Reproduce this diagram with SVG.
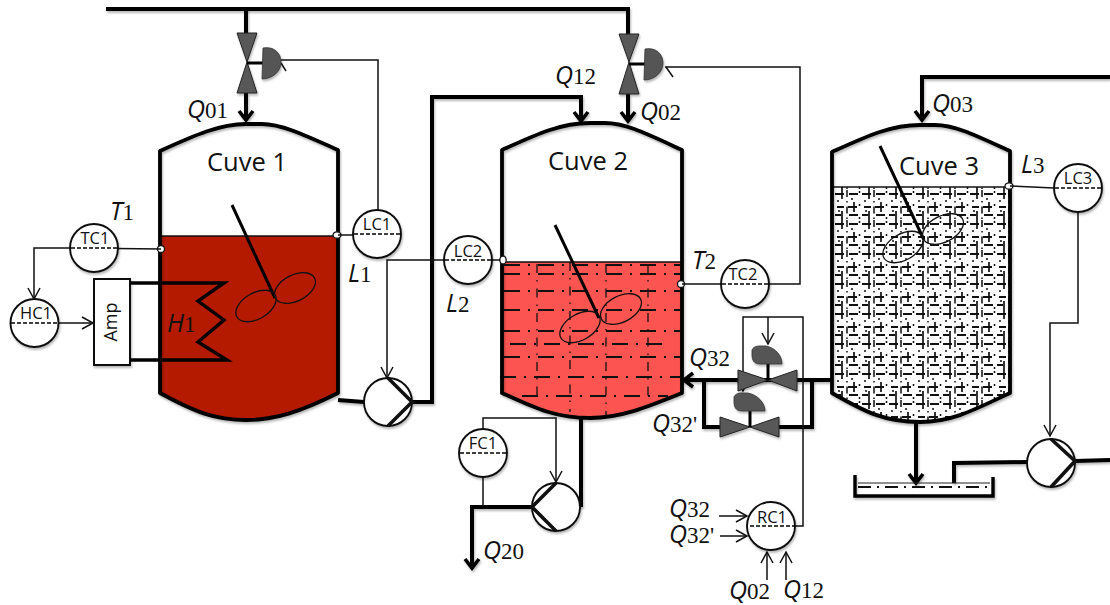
<svg xmlns="http://www.w3.org/2000/svg" width="1110" height="605" viewBox="0 0 1110 605">
<style>
text{font-family:"Open Sans","Noto Sans","DejaVu Sans",sans-serif;fill:#111}
.lbl{font-size:23px;font-family:"Liberation Serif",serif}
.i{font-family:"Open Sans",sans-serif;font-style:italic;font-size:25px}
.tag{font-size:16.500px;text-anchor:middle}
.name{font-size:25.500px;text-anchor:middle}
.pipe{fill:none;stroke:#000;stroke-width:4;filter:url(#sh)}
.thin{fill:none;stroke:#111;stroke-width:1.5}
.wall{fill:none;stroke:#000;stroke-width:3.8;stroke-linecap:round;stroke-linejoin:round;filter:url(#sh)}
.circ{fill:#fff;stroke:#111;stroke-width:1.9;filter:url(#sh)}
.dash{fill:none;stroke:#000;stroke-width:1.6;stroke-dasharray:4 2}
.v{fill:#595959;stroke:#222;stroke-width:1;filter:url(#sh)}
.act{fill:#555;stroke:#333;stroke-width:.8;filter:url(#sh)}
.dd{fill:none;stroke:#111;stroke-width:2;stroke-dasharray:16 8 2 8}
.ddv{fill:none;stroke:#111;stroke-width:1.300;stroke-dasharray:9 7 1.500 7}
.blade{fill:none;stroke:#111;stroke-width:1.3}
.stir{fill:none;stroke:#000;stroke-width:3}
.port{fill:#fff;stroke:#111;stroke-width:1.3}
.pbar{fill:none;stroke:#111;stroke-width:3.6;stroke-linejoin:miter}
</style>
<defs>
<filter id="sh" filterUnits="userSpaceOnUse" x="0" y="0" width="1110" height="605"><feDropShadow dx="1" dy="2" stdDeviation="1.300" flood-color="#000" flood-opacity=".28"/></filter>
<marker id="big" markerWidth="18" markerHeight="18" refX="14" refY="9" orient="auto" markerUnits="userSpaceOnUse" viewBox="0 0 18 18"><path d="M5 2 L14 9 L5 16" fill="none" stroke="#000" stroke-width="3.6"/></marker>
<marker id="sm" markerWidth="16" markerHeight="16" refX="14" refY="8" orient="auto" markerUnits="userSpaceOnUse" viewBox="0 0 16 16"><path d="M3 2 L14 8 L3 14" fill="none" stroke="#111" stroke-width="1.5"/></marker>
<pattern id="hatch" width="27" height="30" patternUnits="userSpaceOnUse" x="834" y="190">
<rect width="27" height="30" fill="#fcfcfc"/>
<g stroke="#111" fill="none">
<path stroke-width="2" d="M1 4H10M15 4H24M3 17H10M14 17H23M1 25H7M15 25H24"/>
<path stroke-width="1.7" d="M8 0V9M20 12V22M8 21V30"/>
<path stroke-width="1.500" d="M13 0V30" stroke-dasharray="7 4 1.500 4"/>
<path stroke-width="1.600" d="M3 11H5M17 9H19M4 21H6"/>
<path stroke-width="1.500" d="M25.500 1V3M25.500 14V16M25.500 27V29"/>
</g>
</pattern>
</defs>
<rect width="1110" height="605" fill="#fff"/>

<g id="cuve1">
<path d="M160 236H338V393C300 412 275 420 246 420C215 420 195 412 160 393Z" fill="#b31a00"/>
<path d="M160 236H338" stroke="#111" stroke-width="1.5"/>
<path class="wall" d="M160 393V151C195 135 220 124 246 124H262C280 124 300 133 338 150V393C300 412 275 420 246 420C215 420 195 412 160 393"/>
<path class="stir" d="M232 205L275 298"/>
<ellipse class="blade" cx="256" cy="306" rx="22" ry="13" transform="rotate(-30 256 306)"/>
<ellipse class="blade" cx="295" cy="288" rx="22" ry="13" transform="rotate(-27 295 288)"/>
<text class="name" x="247" y="171">Cuve 1</text>
<circle class="port" cx="161" cy="249" r="3.500"/>
<ellipse class="port" cx="337" cy="235" rx="4" ry="3.200"/>
</g>

<g id="cuve2">
<path d="M502 262H682V393C645 408 620 418 590 418C555 418 535 408 502 393Z" fill="#fc5450"/>
<path d="M502 262H682" stroke="#111" stroke-width="1.500"/>
<path class="dd" d="M504 265H680M504 274H680M504 291H680M504 310H680M504 331H680M510 344H670M504 357H680M500 377H680M522 396H668"/>
<path class="ddv" d="M537 264V400M570 262V412M606 264V416M648 264V402"/>
<path class="wall" d="M502 393V150C535 135 560 123 590 123H605C625 123 645 133 682 150V393C645 408 620 418 590 418C555 418 535 408 502 393"/>
<path class="stir" d="M555 225L599 318"/>
<ellipse class="blade" cx="580" cy="327" rx="22" ry="13" transform="rotate(-30 580 327)"/>
<ellipse class="blade" cx="621" cy="309" rx="22" ry="13" transform="rotate(-27 621 309)"/>
<text class="name" x="588" y="170">Cuve 2</text>
<ellipse class="port" cx="503" cy="260" rx="3.200" ry="4"/>
<circle class="port" cx="681" cy="284" r="3.500"/>
</g>

<g id="cuve3">
<path d="M832 187H1010V393C970 412 950 422 920 422C885 422 865 412 832 393Z" fill="url(#hatch)"/>
<path d="M832 187H1010" stroke="#111" stroke-width="1.500"/>
<path class="wall" d="M832 393V152C865 137 890 125 920 125H935C955 125 975 135 1010 151V393C970 412 950 422 920 422C885 422 865 412 832 393"/>
<path class="stir" d="M880 146L924 240"/>
<ellipse class="blade" cx="903" cy="247" rx="22" ry="13" transform="rotate(-30 903 247)"/>
<ellipse class="blade" cx="943" cy="229" rx="22" ry="13" transform="rotate(-27 943 229)"/>
<text class="name" x="939" y="175">Cuve 3</text>
<ellipse class="port" cx="1009" cy="186" rx="4" ry="3.200"/>
</g>

<g id="connectors">
<path class="pipe" d="M106 9H628V34"/>
<path class="pipe" d="M246 9V34"/>
<path class="pipe" d="M246 93V120" marker-end="url(#big)"/>
<path class="pipe" d="M628 94V121" marker-end="url(#big)"/>
<path class="pipe" d="M338 400L364 402M412 402H432V97H581V121" marker-end="url(#big)"/>
<path class="pipe" d="M1110 77H922V120" marker-end="url(#big)"/>
<path class="pipe" d="M581 418V507"/>
<path class="pipe" d="M532 507H472V568" marker-end="url(#big)"/>
<path class="pipe" d="M832 380H684" marker-end="url(#big)"/>
<path class="pipe" d="M704 380V427H720M779 427H812V380"/>
<path class="pipe" d="M916 422V483" marker-end="url(#big)"/>
<path class="pipe" d="M1027 462L954 463V483"/>
<path class="pipe" d="M1075 461L1110 460"/>
<path class="thin" d="M281 60H378V210"/>
<path class="thin" d="M338 235H353"/>
<path class="thin" d="M161 249L70 248H34V299" marker-end="url(#sm)"/>
<path class="thin" d="M58 323H93" marker-end="url(#sm)"/>
<path class="thin" d="M500 260H387V378" marker-end="url(#sm)"/>
<path class="thin" d="M682 284H800V67H665"/>
<path class="thin" d="M666 67L673 77"/>
<path class="thin" d="M1010 186L1054 188M1078 212V323H1050V436" marker-end="url(#sm)"/>
<path class="thin" d="M483 429V418H556V482" marker-end="url(#sm)"/>
<path class="thin" d="M483 477V506"/>
<path class="thin" d="M795 526H803V317H743V391" marker-end="url(#sm)"/>
<path class="thin" d="M768 317V344" marker-end="url(#sm)"/>
<path class="thin" d="M719 516H747" marker-end="url(#sm)"/>
<path class="thin" d="M720 536H747" marker-end="url(#sm)"/>
<path class="thin" d="M767 580V552" marker-end="url(#sm)"/>
<path class="thin" d="M786 580V552" marker-end="url(#sm)"/>
<path class="thin" d="M281 63L286 71"/>
</g>

<g id="valve1">
<path class="v" d="M237 33H257L247 62Z"/><path class="v" d="M247 62L257 93H237Z"/>
<path stroke="#000" stroke-width="3" d="M247 63H263"/>
<path class="act" d="M263 48C274 46 281 53 281 62C281 72 272 79 262 79Z"/>
</g>
<g id="valve2">
<path class="v" d="M619 34H639L629 62Z"/><path class="v" d="M629 62L639 94H619Z"/>
<path stroke="#000" stroke-width="3" d="M629 64H645"/>
<path class="act" d="M645 49C656 47 663 54 663 63C663 73 654 80 644 80Z"/>
</g>
<g id="valve3">
<path class="v" d="M738 370L768 380L738 391Z"/><path class="v" d="M797 370L768 380L797 391Z"/>
<path stroke="#000" stroke-width="3" d="M768 380V363"/>
<path class="act" d="M752 350C754 345 760 346 766 346C776 348 782 356 782 364H760C754 364 752 360 752 355Z"/>
</g>
<g id="valve4">
<path class="v" d="M720 417L750 427L720 437Z"/><path class="v" d="M779 417L750 427L779 437Z"/>
<path stroke="#000" stroke-width="3" d="M750 427V410"/>
<path class="act" d="M734 397C736 392 742 393 748 393C758 395 765 403 765 411H742C736 411 734 407 734 402Z"/>
</g>

<g id="heater">
<rect x="94" y="279" width="36" height="86" fill="#fff" stroke="#111" stroke-width="2" style="filter:url(#sh)"/>
<text class="tag" transform="translate(117 322) rotate(-90)" style="font-size:18px">Amp</text>
<path fill="none" stroke="#000" stroke-width="3.400" d="M130 283H224L198 301L224 320L198 342L227 360H130"/>
</g>

<g id="TC1"><circle class="circ" cx="94" cy="248" r="24"/><path class="dash" d="M71 248H117"/><text class="tag" x="95" y="244">TC1</text></g>
<g id="HC1"><circle class="circ" cx="34.500" cy="323" r="24"/><path class="dash" d="M11 323H58"/><text class="tag" x="36" y="319">HC1</text></g>
<g id="LC1"><circle class="circ" cx="377" cy="234" r="24"/><path class="dash" d="M354 234H400"/><text class="tag" x="377" y="230">LC1</text></g>
<g id="LC2"><circle class="circ" cx="468" cy="260" r="24"/><path class="dash" d="M445 260H491"/><text class="tag" x="468" y="257">LC2</text></g>
<g id="TC2"><circle class="circ" cx="745" cy="284" r="24"/><path class="dash" d="M722 284H768"/><text class="tag" x="743" y="280">TC2</text></g>
<g id="LC3"><circle class="circ" cx="1078" cy="188" r="24"/><path class="dash" d="M1055 188H1101"/><text class="tag" x="1078" y="184">LC3</text></g>
<g id="FC1"><circle class="circ" cx="483" cy="453" r="24"/><path class="dash" d="M460 453H506"/><text class="tag" x="483" y="449">FC1</text></g>
<g id="RC1"><circle class="circ" cx="771" cy="526" r="24"/><path class="dash" d="M750 526H795"/><text class="tag" x="772" y="523">RC1</text></g>

<g id="pump1"><circle class="circ" cx="388" cy="402" r="24"/><path class="pbar" d="M388 378L412 402L388 426"/></g>
<g id="pump2"><circle class="circ" cx="556" cy="507" r="24"/><path class="pbar" d="M556 483L532 507L556 531"/></g>
<g id="pump3"><circle class="circ" cx="1051" cy="463" r="24"/><path class="pbar" d="M1051 439L1075 461L1051 487"/></g>

<g id="basin">
<path fill="none" stroke="#000" stroke-width="3.400" d="M855 475V496H993V477" style="filter:url(#sh)"/>
<path stroke="#222" stroke-width="1" d="M858 483H990"/>
<path fill="none" stroke="#111" stroke-width="1.800" stroke-dasharray="13 6 2 6" d="M858 487H990"/>
</g>

<g id="labels">
<text class="lbl" x="187" y="118"><tspan class="i">Q</tspan>01</text>
<text class="lbl" x="110" y="220"><tspan class="i">T</tspan>1</text>
<text class="lbl" x="348" y="282"><tspan class="i">L</tspan>1</text>
<text class="lbl" x="167" y="332"><tspan class="i">H</tspan>1</text>
<text class="lbl" x="555" y="84"><tspan class="i">Q</tspan>12</text>
<text class="lbl" x="640" y="120"><tspan class="i">Q</tspan>02</text>
<text class="lbl" x="446" y="312"><tspan class="i">L</tspan>2</text>
<text class="lbl" x="692" y="269"><tspan class="i">T</tspan>2</text>
<text class="lbl" x="932" y="112"><tspan class="i">Q</tspan>03</text>
<text class="lbl" x="1021" y="173"><tspan class="i">L</tspan>3</text>
<text class="lbl" x="689" y="366"><tspan class="i">Q</tspan>32</text>
<text class="lbl" x="652" y="432"><tspan class="i">Q</tspan>32'</text>
<text class="lbl" x="483" y="559"><tspan class="i">Q</tspan>20</text>
<text class="lbl" x="669" y="517"><tspan class="i">Q</tspan>32</text>
<text class="lbl" x="669" y="543"><tspan class="i">Q</tspan>32'</text>
<text class="lbl" x="729" y="599"><tspan class="i">Q</tspan>02</text>
<text class="lbl" x="783" y="598"><tspan class="i">Q</tspan>12</text>
</g>
</svg>
